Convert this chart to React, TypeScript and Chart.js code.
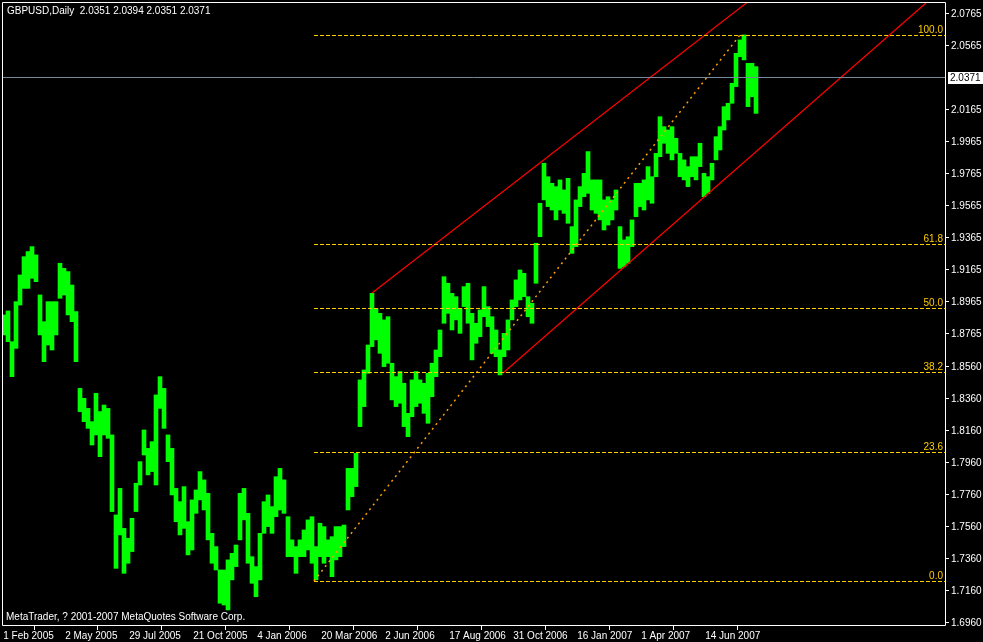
import React, { useEffect, useRef } from 'react';
import { Chart, registerables } from 'chart.js';
Chart.register(...registerables);

const highs = [
  1.8884, 1.8909, 1.8717, 1.8967, 1.9134, 1.9248, 1.9280, 1.9311, 1.9259, 1.9009,
  1.8842, 1.8967, 1.8967, 1.8967, 1.9207, 1.9175, 1.9155, 1.9071, 1.8905, 1.8425,
  1.8363, 1.8300, 1.8217, 1.8394, 1.8280, 1.8321, 1.8300, 1.8134, 1.7634, 1.7800,
  1.7550, 1.7488, 1.7613, 1.7832, 1.7967, 1.8165, 1.8050, 1.8092, 1.8384, 1.8498,
  1.8425, 1.8134, 1.8050, 1.7800, 1.7717, 1.7811, 1.7592,
  1.7728, 1.7790, 1.7905, 1.7853, 1.7769, 1.7519, 1.7436, 1.7290, 1.7290, 1.7353,
  1.7394, 1.7446, 1.7769, 1.7800, 1.7644, 1.7373, 1.7311, 1.7519, 1.7717, 1.7759,
  1.7686, 1.7873, 1.7925, 1.7853, 1.7623, 1.7478, 1.7436, 1.7478, 1.7540, 1.7603,
  1.7623, 1.7436, 1.7582, 1.7561, 1.7478, 1.7498, 1.7561, 1.7561, 1.7571, 1.7925,
  1.7925, 1.8019, 1.8478, 1.8540, 1.8696, 1.9019, 1.8925, 1.8894,
  1.8853, 1.8873, 1.8582, 1.8498, 1.8530, 1.8457, 1.8269, 1.8478, 1.8530, 1.8478,
  1.8457, 1.8519, 1.8582, 1.8665, 1.8790, 1.9123, 1.9082, 1.9019, 1.8998, 1.8925,
  1.9061, 1.9082, 1.8894, 1.8832, 1.8915, 1.9061, 1.8936, 1.8873, 1.8790, 1.8665,
  1.8769, 1.8853, 1.8978, 1.9103, 1.9165, 1.9144, 1.8998, 1.8957, 1.9332, 1.9582,
  1.9832, 1.9748, 1.9707, 1.9686, 1.9728, 1.9665, 1.9738,
  1.9436, 1.9603, 1.9686, 1.9769, 1.9905, 1.9728, 1.9728, 1.9728, 1.9603, 1.9623,
  1.9603, 1.9665, 1.9436, 1.9353, 1.9373, 1.9478, 1.9707, 1.9707, 1.9728, 1.9811,
  1.9748, 1.9894, 2.0123, 2.0061, 2.0040, 2.0061, 1.9988, 1.9894, 1.9853, 1.9811,
  1.9873, 1.9873, 1.9957, 1.9769, 1.9748, 1.9832, 1.9998, 2.0061, 2.0186, 2.0207,
  2.0332, 2.0519, 2.0603, 2.0634, 2.0457, 2.0457, 2.0436,
];
const lows = [
  1.8759, 1.8717, 1.8498, 1.8675, 1.8946, 1.9050, 1.9050, 1.9113, 1.9092, 1.8759,
  1.8592, 1.8696, 1.8665, 1.8759, 1.8988, 1.9009, 1.8884, 1.8842, 1.8592, 1.8280,
  1.8217, 1.8175, 1.8071, 1.8134, 1.7998, 1.8134, 1.8113, 1.7655, 1.7300, 1.7509,
  1.7269, 1.7332, 1.7405, 1.7655, 1.7821, 1.8009, 1.7884, 1.7905, 1.7821, 1.8300,
  1.8175, 1.7967, 1.7759, 1.7592, 1.7509, 1.7550, 1.7384,
  1.7415, 1.7644, 1.7728, 1.7665, 1.7478, 1.7332, 1.7290, 1.7082, 1.7071, 1.7040,
  1.7228, 1.7311, 1.7478, 1.7603, 1.7332, 1.7207, 1.7123, 1.7228, 1.7519, 1.7561,
  1.7519, 1.7623, 1.7665, 1.7644, 1.7373, 1.7373, 1.7269, 1.7373, 1.7373, 1.7415,
  1.7332, 1.7228, 1.7373, 1.7332, 1.7373, 1.7248, 1.7353, 1.7373, 1.7436, 1.7665,
  1.7748, 1.7811, 1.8186, 1.8311, 1.8519, 1.8686, 1.8728, 1.8644,
  1.8561, 1.8582, 1.8353, 1.8311, 1.8332, 1.8186, 1.8123, 1.8248, 1.8311, 1.8332,
  1.8269, 1.8207, 1.8373, 1.8498, 1.8623, 1.8832, 1.8894, 1.8790, 1.8853, 1.8769,
  1.8936, 1.8832, 1.8603, 1.8707, 1.8748, 1.8873, 1.8811, 1.8644, 1.8623, 1.8509,
  1.8623, 1.8665, 1.8853, 1.8936, 1.8978, 1.8998, 1.8873, 1.8832, 1.9082, 1.9373,
  1.9603, 1.9561, 1.9540, 1.9478, 1.9540, 1.9519, 1.9457,
  1.9269, 1.9311, 1.9561, 1.9623, 1.9644, 1.9540, 1.9519, 1.9478, 1.9415, 1.9446,
  1.9478, 1.9540, 1.9175, 1.9186, 1.9207, 1.9311, 1.9498, 1.9561, 1.9540, 1.9603,
  1.9582, 1.9748, 1.9873, 1.9957, 1.9894, 1.9853, 1.9894, 1.9748, 1.9728, 1.9686,
  1.9748, 1.9728, 1.9811, 1.9623, 1.9644, 1.9728, 1.9853, 1.9915, 2.0040, 2.0103,
  2.0207, 2.0311, 2.0498, 2.0478, 2.0186, 2.0248, 2.0144,
];

const yTickValues = [
  2.0765, 2.0565, 2.0165, 1.9965, 1.9765, 1.9565, 1.9365, 1.9165, 1.8965, 1.8765,
  1.856, 1.836, 1.816, 1.796, 1.776, 1.756, 1.736, 1.716, 1.696,
];
const xTickLabels = [
  '1 Feb 2005', '2 May 2005', '29 Jul 2005', '21 Oct 2005', '4 Jan 2006', '20 Mar 2006',
  '2 Jun 2006', '17 Aug 2006', '31 Oct 2006', '16 Jan 2007', '1 Apr 2007', '14 Jun 2007',
];
const xTickIndex = [-0.2, 15.3, 31.3, 47.3, 63.3, 79.3, 95.3, 111.3, 127.3, 143.3, 159.3, 175.3];

const fibLevels = [0, 23.6, 38.2, 50, 61.8, 100];
const fibLow = 1.7221;
const fibHigh = 2.0634;
const fibStartIndex = 77.5;
const fibEndIndex = 184;
const upperChannel = [
  { x: 92, y: 1.9021 },
  { x: 185.9, y: 2.084 },
];
const lowerChannel = [
  { x: 124.75, y: 1.8521 },
  { x: 230.5, y: 2.0834 },
];
const bidPrice = 2.0371;
const titleText = 'GBPUSD,Daily  2.0351 2.0394 2.0351 2.0371';
const footerText = 'MetaTrader, ? 2001-2007 MetaQuotes Software Corp.';

const FAMILY = "'Liberation Sans', Arial, sans-serif";
const FONT = `10px ${FAMILY}`;
const FIB_COLOR = '#FFCC00';

export default function App() {
  const ref = useRef<HTMLCanvasElement | null>(null);

  useEffect(() => {
    document.body.style.margin = '0';
    document.body.style.background = '#000';
    const canvas = ref.current;
    if (!canvas) return;

    const overlay = {
      id: 'mtOverlay',
      beforeDraw(chart: any) {
        const ctx = chart.ctx;
        ctx.save();
        ctx.fillStyle = '#000';
        ctx.fillRect(0, 0, chart.width, chart.height);
        ctx.restore();
      },
      afterDatasetsDraw(chart: any) {
        const ctx = chart.ctx;
        const xs = chart.scales.x;
        const ys = chart.scales.y;
        const area = chart.chartArea;
        ctx.save();
        ctx.beginPath();
        ctx.rect(area.left, area.top, area.right - area.left, area.bottom - area.top);
        ctx.clip();
        const x0 = Math.round(xs.getPixelForValue(fibStartIndex));
        ctx.lineWidth = 1;
        ctx.font = FONT;
        fibLevels.forEach((lvl) => {
          const price = fibLow + ((fibHigh - fibLow) * lvl) / 100;
          const y = Math.round(ys.getPixelForValue(price)) + 0.5;
          ctx.strokeStyle = FIB_COLOR;
          ctx.setLineDash([4, 2]);
          ctx.beginPath();
          ctx.moveTo(x0, y);
          ctx.lineTo(area.right, y);
          ctx.stroke();
          ctx.setLineDash([]);
          ctx.fillStyle = FIB_COLOR;
          ctx.textAlign = 'right';
          ctx.textBaseline = 'alphabetic';
          ctx.fillText(lvl.toFixed(1), area.right - 2, y - 2.5);
        });
        const yb = Math.round(ys.getPixelForValue(bidPrice)) + 0.5;
        ctx.strokeStyle = '#778899';
        ctx.beginPath();
        ctx.moveTo(area.left, yb);
        ctx.lineTo(area.right, yb);
        ctx.stroke();
        ctx.restore();
      },
      afterDraw(chart: any) {
        const ctx = chart.ctx;
        const area = chart.chartArea;
        const ys = chart.scales.y;
        ctx.save();
        ctx.strokeStyle = '#fff';
        ctx.lineWidth = 1;
        ctx.beginPath();
        ctx.rect(area.left + 0.5, area.top + 0.5, area.right - area.left, area.bottom - area.top);
        ctx.stroke();
        ctx.font = FONT;
        ctx.fillStyle = '#fff';
        ctx.textAlign = 'left';
        ctx.textBaseline = 'alphabetic';
        ctx.fillText(titleText, 7, 14);
        ctx.fillText(footerText, 6, 620);
        const yb = Math.round(ys.getPixelForValue(bidPrice));
        ctx.fillStyle = '#fff';
        ctx.fillRect(area.right + 3, yb - 5, chart.width - area.right - 3, 12);
        ctx.fillStyle = '#000';
        ctx.textBaseline = 'middle';
        ctx.fillText(bidPrice.toFixed(4), area.right + 5, yb + 1);
        ctx.restore();
      },
    };

    const chart = new Chart(canvas, {
      type: 'bar',
      data: {
        datasets: [
          {
            type: 'bar',
            data: highs.map((h, i) => ({ x: i, y: [lows[i], h] })) as any,
            backgroundColor: '#00FF00',
            borderWidth: 0,
            barThickness: 4,
            order: 2,
          },
          {
            type: 'line',
            data: [
              { x: fibStartIndex, y: fibLow },
              { x: fibEndIndex, y: fibHigh },
            ] as any,
            borderColor: '#FFA000',
            borderWidth: 1.5,
            borderDash: [2, 4],
            pointRadius: 0,
            order: 1,
          },
          {
            type: 'line',
            data: upperChannel as any,
            borderColor: '#FF0000',
            borderWidth: 1.2,
            pointRadius: 0,
            order: 1,
          },
          {
            type: 'line',
            data: lowerChannel as any,
            borderColor: '#FF0000',
            borderWidth: 1.2,
            pointRadius: 0,
            order: 1,
          },
        ],
      },
      options: {
        responsive: false,
        animation: false,
        devicePixelRatio: 1,
        layout: { padding: { left: 2, top: 2, right: 0, bottom: 0 } },
        plugins: { legend: { display: false }, tooltip: { enabled: false } },
        scales: {
          x: {
            type: 'linear',
            min: -0.5,
            max: 235.25,
            offset: false,
            border: { display: false },
            grid: { drawOnChartArea: false, drawTicks: true, tickLength: 5, color: '#fff' },
            ticks: {
              autoSkip: false,
              maxRotation: 0,
              align: 'start',
              padding: 0,
              color: '#fff',
              font: { family: FAMILY, size: 10 },
              callback: (_v: any, idx: number) => xTickLabels[idx],
            },
            afterBuildTicks: (scale: any) => {
              scale.ticks = xTickIndex.map((v) => ({ value: v }));
            },
            afterFit: (scale: any) => {
              scale.height = 17;
              scale.paddingLeft = 0;
              scale.paddingRight = 0;
              scale.paddingTop = 0;
              scale.paddingBottom = 0;
            },
          },
          y: {
            type: 'linear',
            position: 'right',
            min: 1.6946,
            max: 2.084,
            border: { display: false },
            grid: { drawOnChartArea: false, drawTicks: true, tickLength: 4, color: '#fff' },
            ticks: {
              autoSkip: false,
              padding: 2,
              color: '#fff',
              font: { family: FAMILY, size: 10 },
              callback: (v: any) => Number(v).toFixed(4),
            },
            afterBuildTicks: (scale: any) => {
              scale.ticks = yTickValues.map((v) => ({ value: v }));
            },
            afterFit: (scale: any) => {
              scale.width = 38;
              scale.paddingLeft = 0;
              scale.paddingRight = 0;
              scale.paddingTop = 0;
              scale.paddingBottom = 0;
            },
          },
        },
      },
      plugins: [overlay],
    });
    return () => chart.destroy();
  }, []);

  return <canvas ref={ref} width={983} height={642} style={{ display: 'block' }} />;
}
